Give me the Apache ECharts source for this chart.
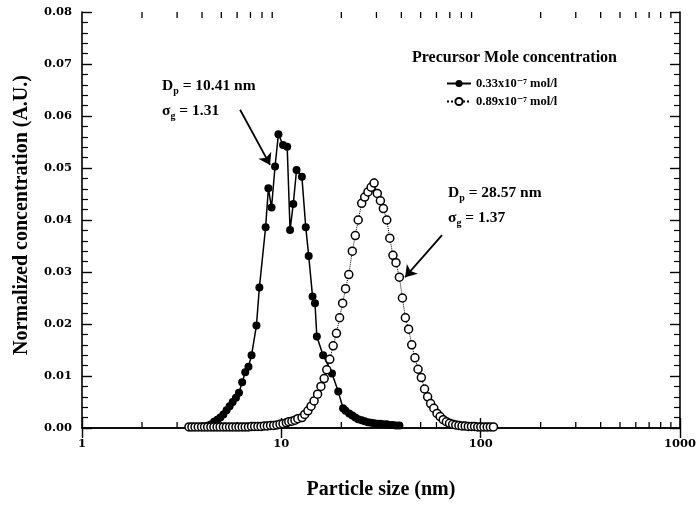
<!DOCTYPE html>
<html><head><meta charset="utf-8">
<script src="https://cdn.jsdelivr.net/npm/echarts@6/dist/echarts.min.js"></script>
<style>html,body{margin:0;padding:0;background:#fff}#c{width:700px;height:508px}</style>
</head><body><div id="c"></div>
<script>
// Series A: 0.33x10^-7 mol/l (filled circles, solid line)
const sizeA = [4.00,4.15,4.30,4.45,4.60,4.77,4.94,5.12,5.31,5.50,5.70,5.92,6.13,6.36,6.59,6.84,7.09,7.50,7.76,8.34,8.61,8.93,9.30,9.67,10.2,10.7,11.06,11.48,11.92,12.68,13.26,13.72,14.34,14.75,15.07,16.2,17.95,19.3,20.4,21.0,21.9,22.7,23.5,24.3,25.3,26.2,27.2,28.2,29.2,30.3,31.4,32.5,33.8,35.0,36.3,37.6,39.1];
const concA = [0.0002,0.0003,0.0005,0.0007,0.0012,0.0016,0.0020,0.0026,0.0034,0.0042,0.0050,0.0058,0.0068,0.0088,0.0107,0.0118,0.0140,0.0197,0.0270,0.0386,0.0461,0.0424,0.0503,0.0565,0.0544,0.0541,0.0381,0.0431,0.0496,0.0483,0.0386,0.0331,0.0253,0.0240,0.0176,0.0140,0.0105,0.0070,0.0038,0.0033,0.0028,0.0024,0.0020,0.0017,0.0015,0.0013,0.0011,0.0010,0.0009,0.0008,0.0008,0.0007,0.0007,0.0006,0.0006,0.0005,0.0005];
// Series B: 0.89x10^-7 mol/l (open circles, dotted line)
const sizeB = [3.44,3.56,3.69,3.83,3.98,4.12,4.27,4.43,4.59,4.76,4.93,5.12,5.30,5.50,5.70,5.92,6.13,6.36,6.59,6.84,7.09,7.35,7.63,7.91,8.21,8.51,8.83,9.16,9.50,9.85,10.2,10.6,10.9,11.3,11.7,12.1,12.7,13.1,13.6,14.1,14.6,15.2,15.8,16.4,16.9,17.5,18.2,18.9,19.6,20.3,21.0,21.8,22.7,23.5,24.3,25.3,26.2,27.2,28.2,29.2,30.3,31.4,32.5,33.8,35.0,36.3,37.6,39.1,40.5,41.9,43.5,45.1,46.8,48.5,50.4,52.3,54.2,56.1,58.2,60.4,62.6,64.9,67.3,69.8,72.4,75.0,77.8,80.6,83.6,86.7,89.9,93.2,96.7,100.2,103.9,107.8,111.8,115.9];
const concB = [0.0002,0.0002,0.0002,0.0002,0.0002,0.0002,0.0002,0.0002,0.0002,0.0002,0.0002,0.0002,0.0002,0.0002,0.0002,0.0002,0.0002,0.0002,0.0002,0.0002,0.0003,0.0003,0.0003,0.0003,0.0004,0.0004,0.0005,0.0005,0.0006,0.0007,0.0008,0.0010,0.0012,0.0013,0.0015,0.0018,0.0020,0.0026,0.0033,0.0042,0.0052,0.0065,0.0080,0.0095,0.0112,0.0132,0.0158,0.0182,0.0212,0.0240,0.0268,0.0295,0.0340,0.0370,0.0400,0.0432,0.0444,0.0454,0.0463,0.0471,0.0451,0.0437,0.0422,0.0400,0.0365,0.0332,0.0318,0.0290,0.0250,0.0212,0.0190,0.0160,0.0135,0.0113,0.0097,0.0075,0.0060,0.0047,0.0038,0.0028,0.0022,0.0016,0.0012,0.0009,0.0007,0.0006,0.0005,0.0004,0.0004,0.0003,0.0003,0.0003,0.0002,0.0002,0.0002,0.0002,0.0002,0.0002];
const xMinorTicks = [2,3,4,5,6,7,8,9,20,30,40,50,60,70,80,90,200,300,400,500,600,700,800,900];
const seriesNames = ['0.33x10\u207B\u2077 mol/l','0.89x10\u207B\u2077 mol/l'];
const legendTitle = 'Precursor Mole concentration';
const xName = 'Particle size (nm)';
const yName = 'Normalized concentration (A.U.)';
const annA = ['10.41 nm','1.31'];
const annB = ['28.57 nm','1.37'];
const arrowA = [[6.21,0.0612],[8.78,0.0506]];
const arrowB = [[64.0,0.0371],[41.8,0.0290]];

const F = "'Liberation Serif','DejaVu Serif',serif";
const FT = "'DejaVu Serif','Liberation Serif',serif";
const chart = echarts.init(document.getElementById('c'), null, {renderer:'canvas'});
const axisLine = {show:true, lineStyle:{color:'#000', width:1.6}};
function richOf(fs, sub, lh, pad){
  return {
    b:{fontFamily:F,fontWeight:'bold',fontSize:fs,color:'#000',lineHeight:lh},
    s:{fontFamily:F,fontWeight:'bold',fontSize:sub,color:'#000',lineHeight:lh,verticalAlign:'bottom',padding:[pad,0,0,0]}
  };
}
function ann(left, top, vals, fs, sub, lh, pad, gap){
  const r = richOf(fs, sub, lh, pad);
  return [
    {type:'text', left:left, top:top, style:{text:'{b|D}{s|p}{b| = '+vals[0]+'}', rich:r}},
    {type:'text', left:left, top:top+gap, style:{text:'{b|\u03C3}{s|g}{b| = '+vals[1]+'}', rich:r}}
  ];
}
function arrow(a){
  return {silent:true, symbol:['none','arrow'], symbolSize:11, lineStyle:{color:'#000',width:1.8,type:'solid'}, label:{show:false},
    itemStyle:{color:'#000'},
    data:[[{coord:a[0]},{coord:a[1]}]], animation:false};
}
const tickLabel = {fontFamily:FT,fontWeight:'bold',fontSize:11.5,color:'#000'};
const option = {
  backgroundColor:'#fff',
  animation:false,
  grid:{left:82,right:20,top:12,bottom:80},
  title:{text:legendTitle,left:412,top:50,padding:0,textStyle:{fontFamily:F,fontWeight:'bold',fontSize:16,color:'#000'}},
  legend:{data:seriesNames, orient:'vertical', left:446, top:77, padding:0, itemGap:5, itemWidth:24, itemHeight:9,
    textStyle:{fontFamily:F,fontWeight:'bold',fontSize:12.5,color:'#000'}},
  xAxis:[
    {type:'log', logBase:10, min:1, max:1000, position:'bottom', name:xName, nameLocation:'middle', nameGap:52,
     nameTextStyle:{fontFamily:F,fontWeight:'bold',fontSize:20,color:'#000'},
     axisLine:axisLine, axisTick:{inside:true,length:10,lineStyle:{color:'#000',width:1.4}},
     axisLabel:Object.assign({margin:10,formatter:v=>String(Math.round(v))}, tickLabel), splitLine:{show:false}},
    {type:'log', logBase:10, min:1, max:1000, position:'top',
     axisLine:axisLine, axisTick:{inside:true,length:10,lineStyle:{color:'#000',width:1.4}},
     axisLabel:{show:false}, splitLine:{show:false}}
  ],
  yAxis:[
    {type:'value', min:0, max:0.08, interval:0.01, name:yName, nameLocation:'middle', nameGap:50,
     nameTextStyle:{fontFamily:F,fontWeight:'bold',fontSize:20,color:'#000',padding:[0,0,0,10]},
     axisLine:axisLine, axisTick:{inside:true,length:10,lineStyle:{color:'#000',width:1.4}},
     minorTick:{show:true,splitNumber:5,length:6,lineStyle:{color:'#000',width:1.2}},
     axisLabel:Object.assign({margin:10,formatter:v=>v.toFixed(2)}, tickLabel),
     splitLine:{show:false}},
    {type:'value', min:0, max:0.08, interval:0.01, position:'right',
     axisLine:axisLine, axisTick:{inside:true,length:10,lineStyle:{color:'#000',width:1.4}},
     minorTick:{show:true,splitNumber:5,length:6,lineStyle:{color:'#000',width:1.2}},
     axisLabel:{show:false}, splitLine:{show:false}}
  ],
  graphic:[].concat(ann(162,78,annA,15.5,10,20,8,25), ann(448,185,annB,15.5,10,20,8,25)),
  series:[
    {type:'custom', name:'minor', silent:true, xAxisIndex:0, yAxisIndex:0, z:1,
     data:xMinorTicks.map(v=>[v,0]),
     renderItem:(params,api)=>{
       const x=api.value(0);
       const b=api.coord([x,0]); const t=api.coord([x,0.08]);
       return {type:'group',children:[
         {type:'line',shape:{x1:b[0],y1:b[1],x2:b[0],y2:b[1]-6},style:{stroke:'#000',lineWidth:1.3}},
         {type:'line',shape:{x1:t[0],y1:t[1],x2:t[0],y2:t[1]+6},style:{stroke:'#000',lineWidth:1.3}}
       ]};
     }},
    {type:'line', name:seriesNames[0], data:sizeA.map((x,i)=>[x,concA[i]]),
     symbol:'circle', symbolSize:8, showAllSymbol:true, z:3,
     itemStyle:{color:'#000'}, lineStyle:{color:'#000',width:1.5},
     markLine:arrow(arrowA)},
    {type:'line', name:seriesNames[1], data:sizeB.map((x,i)=>[x,concB[i]]),
     symbol:'circle', symbolSize:8, showAllSymbol:true, z:4,
     itemStyle:{color:'#fff',borderColor:'#000',borderWidth:1.5}, lineStyle:{color:'#000',width:1,type:'dotted'},
     markLine:arrow(arrowB)}
  ]
};
chart.setOption(option);
</script>
</body></html>
